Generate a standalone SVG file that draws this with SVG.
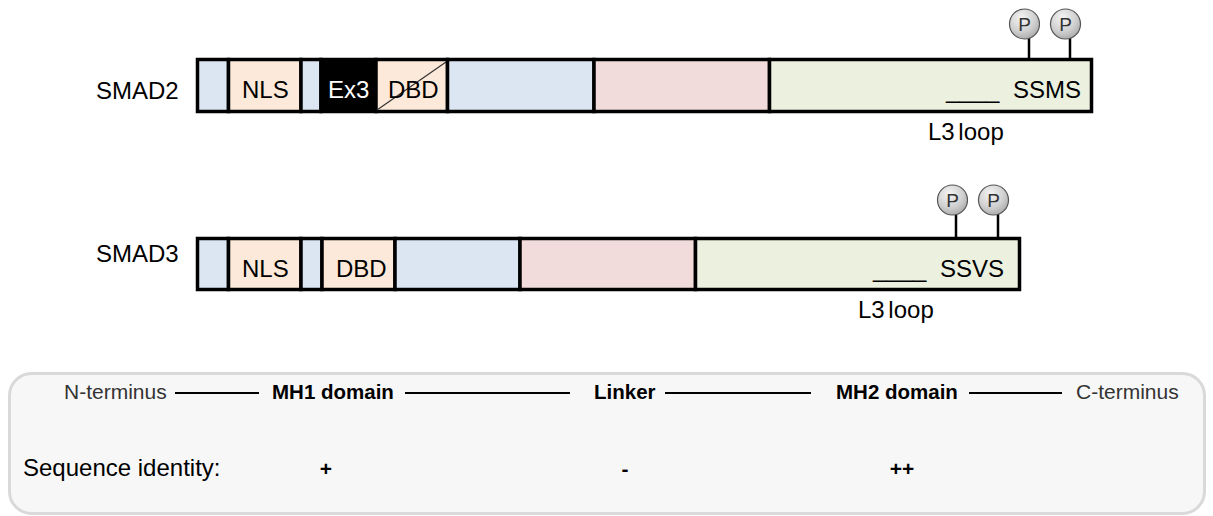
<svg xmlns="http://www.w3.org/2000/svg" width="1213" height="516" viewBox="0 0 1213 516">
<style>
text{font-family:"Liberation Sans",Arial,sans-serif;}
.lbl{font-size:24px;fill:#000;}
.dom{font-size:24px;fill:#000;}
.loop{font-size:24px;fill:#000;word-spacing:-3px;}
.blue{fill:#dce6f2;stroke:#000;stroke-width:3.5;}
.peach{fill:#fde9d9;stroke:#000;stroke-width:3.5;}
.pink{fill:#f2dcdb;stroke:#000;stroke-width:3.5;}
.green{fill:#ebf1de;stroke:#000;stroke-width:3.5;}
.blk{fill:#000;stroke:#000;stroke-width:3.5;}
.stem{stroke:#000;stroke-width:2.5;}
.pc{fill:url(#pg);stroke:#555;stroke-width:1.2;}
.pt{font-size:19px;fill:#333;text-anchor:middle;}
.rowt{font-size:21px;fill:#333;}
.rowb{font-size:20.5px;font-weight:bold;fill:#000;}
.rl{stroke:#000;stroke-width:2;}
.sym{font-size:21px;font-weight:bold;fill:#000;text-anchor:middle;}
</style>
<defs>
<radialGradient id="pg" cx="0.4" cy="0.3" r="0.75">
<stop offset="0" stop-color="#f4f4f4"/>
<stop offset="0.6" stop-color="#d0d0d0"/>
<stop offset="1" stop-color="#a8a8a8"/>
</radialGradient>
</defs>
<rect width="1213" height="516" fill="#fff"/>

<g id="smad2">
<text class="lbl" x="96" y="99">SMAD2</text>
<rect class="blue" x="197.5" y="59.5" width="31" height="52"/>
<rect class="peach" x="228.5" y="59.5" width="72.5" height="52"/>
<rect class="blue" x="301" y="59.5" width="20" height="52"/>
<rect class="blk" x="321" y="59.5" width="55" height="52"/>
<rect class="peach" x="376" y="59.5" width="71.5" height="52"/>
<line x1="377" y1="110" x2="446" y2="62" stroke="#333" stroke-width="1.3"/>
<rect class="blue" x="447.5" y="59.5" width="146.5" height="52"/>
<rect class="pink" x="594" y="59.5" width="175.5" height="52"/>
<rect class="green" x="769.5" y="59.5" width="322" height="52"/>
<text class="dom" x="242" y="98">NLS</text>
<text class="dom" x="328" y="98" style="fill:#fff">Ex3</text>
<text class="dom" x="388" y="98">DBD</text>
<text class="dom" y="98"><tspan x="946">____</tspan><tspan x="1013">SSMS</tspan></text>
<text class="loop" x="928" y="140">L3 loop</text>
</g>
<g id="smad2-p">
<line class="stem" x1="1029" y1="37" x2="1029" y2="59"/>
<line class="stem" x1="1070" y1="37" x2="1070" y2="59"/>
<circle class="pc" cx="1024.5" cy="24" r="15"/>
<circle class="pc" cx="1065.5" cy="24" r="15"/>
<text class="pt" x="1024.5" y="31">P</text>
<text class="pt" x="1065.5" y="31">P</text>
</g>

<g id="smad3">
<text class="lbl" x="96" y="262">SMAD3</text>
<rect class="blue" x="197.5" y="238.5" width="31" height="51"/>
<rect class="peach" x="228.5" y="238.5" width="72.5" height="51"/>
<rect class="blue" x="301" y="238.5" width="21" height="51"/>
<rect class="peach" x="322" y="238.5" width="73" height="51"/>
<rect class="blue" x="395" y="238.5" width="125" height="51"/>
<rect class="pink" x="520" y="238.5" width="175.5" height="51"/>
<rect class="green" x="695.5" y="238.5" width="324" height="51"/>
<text class="dom" x="242" y="277">NLS</text>
<text class="dom" x="336" y="277">DBD</text>
<text class="dom" y="277"><tspan x="873">____</tspan><tspan x="940">SSVS</tspan></text>
<text class="loop" x="858" y="318">L3 loop</text>
</g>
<g id="smad3-p">
<line class="stem" x1="956" y1="213" x2="956" y2="238"/>
<line class="stem" x1="998" y1="213" x2="998" y2="238"/>
<circle class="pc" cx="952.5" cy="200" r="15"/>
<circle class="pc" cx="993.5" cy="200" r="15"/>
<text class="pt" x="952.5" y="207">P</text>
<text class="pt" x="993.5" y="207">P</text>
</g>

<g id="legend">
<rect x="9.5" y="373.5" width="1195" height="140" rx="22" ry="22" fill="#f7f7f7" stroke="#d9d9d9" stroke-width="3"/>
<text class="rowt" x="64" y="399">N-terminus</text>
<text class="rowb" x="272" y="399">MH1 domain</text>
<text class="rowb" x="594" y="399">Linker</text>
<text class="rowb" x="836" y="399">MH2 domain</text>
<text class="rowt" x="1076" y="399">C-terminus</text>
<text x="23" y="476" style="font-size:24px;fill:#000">Sequence identity:</text>
<text class="sym" x="326" y="476">+</text>
<text class="sym" x="625" y="476">-</text>
<text class="sym" x="902" y="476">++</text>
</g>

<g id="connectors">
<line class="rl" x1="175" y1="393" x2="259" y2="393"/>
<line class="rl" x1="405" y1="393" x2="570" y2="393"/>
<line class="rl" x1="665" y1="393" x2="811" y2="393"/>
<line class="rl" x1="969" y1="393" x2="1062" y2="393"/>
</g>
</svg>
